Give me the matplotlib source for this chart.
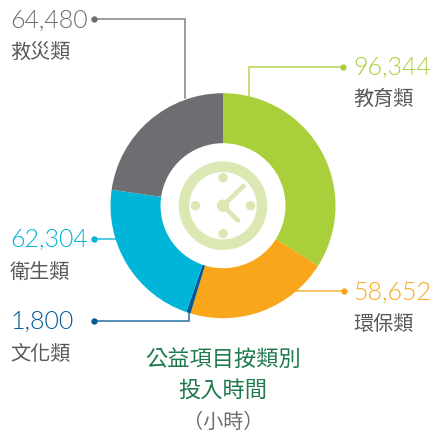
import matplotlib
matplotlib.use("Agg")
import matplotlib.pyplot as plt
from matplotlib.patches import Circle, Wedge

# values, clockwise from 12 o'clock
categories = ["教育類", "環保類", "文化類", "衛生類", "救災類"]
hours = [96344, 58652, 1800, 62304, 64480]
colors = ["#a9d03a", "#faa61a", "#005b94", "#00b5d8", "#6d6e71"]
title_lines = ["公益項目按類別", "投入時間"]
unit_label = "（小時）"

W, H = 430, 432
CJK = ["Noto Sans CJK TC", "DejaVu Sans"]
CLOCK = "#dbe8b4"


def py(y):
    # picture coordinates have y going down
    return H - y


fig = plt.figure(figsize=(4.3, 4.32), dpi=100)
ax = fig.add_axes([0, 0, 1, 1])

cx, cy = 223, py(205.7)
ax.pie(hours, colors=colors, startangle=90, counterclock=False, center=(cx, cy),
       radius=112.5, wedgeprops={"width": 50, "linewidth": 0})
ax.set_xlim(0, W)
ax.set_ylim(0, H)
ax.set_aspect("equal")
ax.axis("off")

# clock icon in the hole
ax.add_patch(Wedge((cx, cy), 44.3, 0, 360, width=10.6, fc=CLOCK, lw=0))
for dx, dy in [(0, 28), (27.5, 0), (0, -28), (-27.5, 0)]:
    ax.add_patch(Circle((cx + dx, cy + dy), 4.7, fc=CLOCK, lw=0))
ax.add_patch(Circle((cx, cy), 6.2, fc=CLOCK, lw=0))
ax.plot([cx, 243.5], [cy, py(186)], color=CLOCK, lw=3.4, solid_capstyle="round")
ax.plot([cx, 238], [cy, py(220.5)], color=CLOCK, lw=3.4, solid_capstyle="round")

# leader lines: (category index, path in picture pixels)
leaders = [
    (0, [(249, 96), (249, 67), (342.5, 67)]),
    (1, [(294, 291.3), (343.5, 291.3)]),
    (2, [(189, 312), (189, 320.7), (93.5, 320.7)]),
    (3, [(116, 238.7), (93.5, 238.7)]),
    (4, [(184.7, 98), (184.7, 19.3), (93.5, 19.3)]),
]
for i, path in leaders:
    xs = [p[0] for p in path]
    ys = [py(p[1]) for p in path]
    ax.plot(xs, ys, color=colors[i], lw=1.2, alpha=0.8, zorder=0, solid_joinstyle="miter")
    ax.plot(xs[-1], ys[-1], "o", color=colors[i], ms=4.6, mew=0)

# label anchors: left x, number y, name y
anchors = [(353, 68, 99), (353, 293, 324), (10.5, 322, 354), (10, 240, 272), (10, 21, 52)]
for i, (x, y_num, y_name) in enumerate(anchors):
    ax.text(x, py(y_num), f"{hours[i]:,}", color=colors[i], fontsize=18, family="Lato",
            weight=300, ha="left", va="center")
    ax.text(x, py(y_name), categories[i], color="#58595b", fontsize=14.5, family=CJK,
            weight="light", ha="left", va="center")

for line, y in zip(title_lines, [359.5, 390.5]):
    ax.text(cx, py(y), line, color="#1f7a4d", fontsize=16, family=CJK, ha="center", va="center")
ax.text(223, py(422), unit_label, color="#6d6e71", fontsize=14.5, family=CJK, weight="light",
        ha="center", va="center")

fig.savefig("out.png", dpi=100)
